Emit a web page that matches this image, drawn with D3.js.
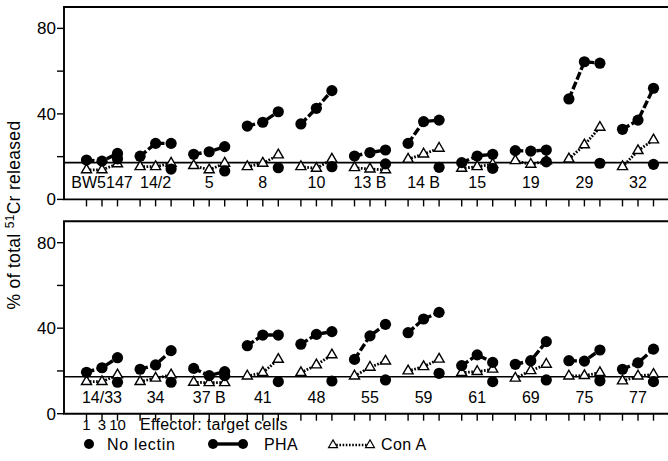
<!DOCTYPE html>
<html>
<head>
<meta charset="utf-8">
<script src="https://cdn.jsdelivr.net/npm/d3@7"></script>
<style>
  body { margin: 0; background: #fff; }
  text { font-family: "Liberation Sans", Arial, sans-serif; fill: #000; }
</style>
</head>
<body>
<div class="chart"></div>
<script>
// effector : target ratios
var ratios = ["1", "3", "10"];

// top panel
var topGroups = ["BW5147", "14/2", "5", "8", "10", "13 B", "14 B", "15", "19", "29", "32"];
var topPHA = [
  [18.4, 17.9, 21.5], [20.2, 26.2, 26.2], [21.1, 22.3, 24.7], [34.3, 36.1, 41.0],
  [35.3, 42.6, 50.9], [20.3, 21.9, 23.1], [26.2, 36.4, 37.1], [17.2, 20.3, 21.1],
  [22.8, 22.6, 23.1], [47.0, 64.4, 63.7], [32.8, 37.1, 52.0]
];
var topConA = [
  [13.8, 13.8, 16.6], [15.3, 15.3, 16.9], [15.8, 13.8, 16.9], [15.3, 16.9, 20.8],
  [15.3, 14.5, 18.8], [14.8, 14.2, 13.8], [18.8, 21.2, 23.9], [14.5, 15.3, 16.4],
  [18.1, 16.4, 18.0], [18.9, 25.5, 33.7], [15.3, 22.8, 27.8]
];
var topNoLectin = [19.0, 14.2, 13.3, 14.8, 15.3, 16.6, 15.0, 14.5, 17.6, 16.9, 16.4];
var topBaseline = 17.2;

// bottom panel
var botGroups = ["14/33", "34", "37 B", "41", "48", "55", "59", "61", "69", "75", "77"];
var botPHA = [
  [19.4, 21.5, 26.2], [20.8, 22.8, 29.5], [21.2, 17.8, 19.7], [31.8, 36.8, 36.8],
  [32.5, 37.1, 38.4], [25.4, 36.4, 41.8], [37.9, 44.3, 47.4], [22.5, 27.5, 24.0],
  [23.1, 24.8, 33.7], [24.8, 24.6, 29.8], [20.8, 23.8, 30.2]
];
var botConA = [
  [15.0, 15.0, 18.1], [15.0, 16.6, 18.1], [14.7, 14.5, 14.5], [17.6, 19.2, 25.4],
  [19.2, 22.8, 27.5], [17.6, 21.7, 24.6], [20.0, 22.0, 25.5], [19.2, 19.7, 20.8],
  [16.6, 20.1, 23.1], [17.6, 17.8, 19.2], [15.3, 17.6, 18.4]
];
var botNoLectin = [14.7, 14.7, 17.8, 15.0, 15.3, 15.8, 18.9, 15.0, 15.8, 15.4, 15.0];
var botBaseline = 17.3;

var yTicks = [0, 20, 40, 60, 80];
var yLabels = [0, 40, 80];

var W = 668, H = 461;
var left = 64;

var svg = d3.select(".chart").append("svg")
  .attr("width", W)
  .attr("height", H);

var xGroup = d3.scaleLinear().domain([0, 10]).range([86.5, 622.5]);
var xRatio = d3.scalePoint().domain(ratios).range([0, 31]);
function xPos(g, r) { return xGroup(g) + xRatio(r); }

var tri = d3.symbol().type(d3.symbolTriangle).size(44);

function drawPanel(groups, pha, cona, nolectin, base, y0, y1) {
  var y = d3.scaleLinear().domain([0, 90]).range([y0, y1]);
  var g = svg.append("g");

  // frame (open on the right, runs off the page)
  g.append("path")
    .attr("d", "M" + (W + 5) + "," + y1 + "H" + left + "V" + y0 + "H" + (W + 5))
    .attr("fill", "none")
    .attr("stroke", "#000")
    .attr("stroke-width", 1.9);

  // y ticks
  g.selectAll(".yt").data(yTicks).enter().append("line")
    .attr("x1", left - 7).attr("x2", left)
    .attr("y1", function (d) { return y(d); })
    .attr("y2", function (d) { return y(d); })
    .attr("stroke", "#000").attr("stroke-width", 1.4);
  g.selectAll(".yl").data(yLabels).enter().append("text")
    .attr("x", left - 8)
    .attr("y", function (d) { return y(d) + 6; })
    .attr("text-anchor", "end")
    .style("font-size", "17px")
    .text(function (d) { return d; });

  // x ticks, one for each point
  var ticks = [];
  groups.forEach(function (d, i) {
    ratios.forEach(function (r) { ticks.push(xPos(i, r)); });
  });
  g.selectAll(".xt").data(ticks).enter().append("line")
    .attr("x1", function (d) { return d; })
    .attr("x2", function (d) { return d; })
    .attr("y1", y0).attr("y2", y0 + 7)
    .attr("stroke", "#000").attr("stroke-width", 1.4);

  // reference line (no lectin level)
  g.append("line")
    .attr("x1", left).attr("x2", W)
    .attr("y1", y(base)).attr("y2", y(base))
    .attr("stroke", "#000").attr("stroke-width", 1.6);

  var line = d3.line()
    .x(function (d, i) { return xRatio(ratios[i]); })
    .y(function (d) { return y(d); });

  // Con A dotted lines
  g.selectAll(".cl").data(cona).enter().append("path")
    .attr("transform", function (d, i) { return "translate(" + xGroup(i) + ",0)"; })
    .attr("d", line)
    .attr("fill", "none")
    .attr("stroke", "#000")
    .attr("stroke-width", 2.8)
    .attr("stroke-dasharray", "1.7,1.5");

  // PHA dashed lines
  g.selectAll(".pl").data(pha).enter().append("path")
    .attr("transform", function (d, i) { return "translate(" + xGroup(i) + ",0)"; })
    .attr("d", line)
    .attr("fill", "none")
    .attr("stroke", "#000")
    .attr("stroke-width", 3.4)
    .attr("stroke-dasharray", "8,2.5");

  // markers
  groups.forEach(function (name, i) {
    cona[i].forEach(function (v, j) {
      g.append("path")
        .attr("d", tri)
        .attr("transform", "translate(" + xPos(i, ratios[j]) + "," + y(v) + ")")
        .attr("fill", "#fff")
        .attr("stroke", "#000")
        .attr("stroke-width", 1.4);
    });
    pha[i].forEach(function (v, j) {
      g.append("circle")
        .attr("cx", xPos(i, ratios[j]))
        .attr("cy", y(v))
        .attr("r", 5.6)
        .attr("fill", "#000");
    });
    g.append("circle")
      .attr("cx", xPos(i, "10"))
      .attr("cy", y(nolectin[i]))
      .attr("r", 5.6)
      .attr("fill", "#000");
  });

  // group labels
  g.selectAll(".gl").data(groups).enter().append("text")
    .attr("x", function (d, i) { return xPos(i, "3"); })
    .attr("y", y0 - 11)
    .attr("text-anchor", "middle")
    .style("font-size", "16px")
    .text(function (d) { return d; });
}

drawPanel(topGroups, topPHA, topConA, topNoLectin, topBaseline, 199.4, 7.0);
drawPanel(botGroups, botPHA, botConA, botNoLectin, botBaseline, 413.7, 221.3);

// y axis title
var yt = svg.append("text")
  .attr("transform", "translate(20,215) rotate(-90)")
  .attr("text-anchor", "middle")
  .style("font-size", "17.5px")
  .style("letter-spacing", "0.3px");
yt.append("tspan").text("% of total ");
yt.append("tspan").attr("dy", -6).style("font-size", "12px").text("51");
yt.append("tspan").attr("dy", 6).text("Cr released");

// ratio labels under first group
svg.selectAll(".rl").data(ratios).enter().append("text")
  .attr("x", function (d) { return xPos(0, d); })
  .attr("y", 430)
  .attr("text-anchor", "middle")
  .style("font-size", "15px")
  .text(function (d) { return d; });
svg.append("text")
  .attr("x", 140).attr("y", 430)
  .style("font-size", "16px")
  .style("letter-spacing", "0.3px")
  .text("Effector: target cells");

// legend
var ly = 444;
svg.append("circle").attr("cx", 89).attr("cy", ly).attr("r", 5).attr("fill", "#000");
svg.append("text").attr("x", 107).attr("y", ly + 6).style("font-size", "16px")
  .style("letter-spacing", "0.7px").text("No lectin");

svg.append("line").attr("x1", 213).attr("x2", 243).attr("y1", ly).attr("y2", ly)
  .attr("stroke", "#000").attr("stroke-width", 3.4);
svg.append("circle").attr("cx", 213).attr("cy", ly).attr("r", 5).attr("fill", "#000");
svg.append("circle").attr("cx", 243).attr("cy", ly).attr("r", 5).attr("fill", "#000");
svg.append("text").attr("x", 264).attr("y", ly + 6).style("font-size", "16px")
  .style("letter-spacing", "0.4px").text("PHA");

svg.append("line").attr("x1", 333).attr("x2", 370).attr("y1", ly + 1).attr("y2", ly + 1)
  .attr("stroke", "#000").attr("stroke-width", 2.5).attr("stroke-dasharray", "1.6,1.6");
[333, 370].forEach(function (x) {
  svg.append("path").attr("d", d3.symbol().type(d3.symbolTriangle).size(34))
    .attr("transform", "translate(" + x + "," + (ly + 1) + ")")
    .attr("fill", "#fff").attr("stroke", "#000").attr("stroke-width", 1.2);
});
svg.append("text").attr("x", 381).attr("y", ly + 6).style("font-size", "16px")
  .style("letter-spacing", "0.4px").text("Con A");
</script>
</body>
</html>
